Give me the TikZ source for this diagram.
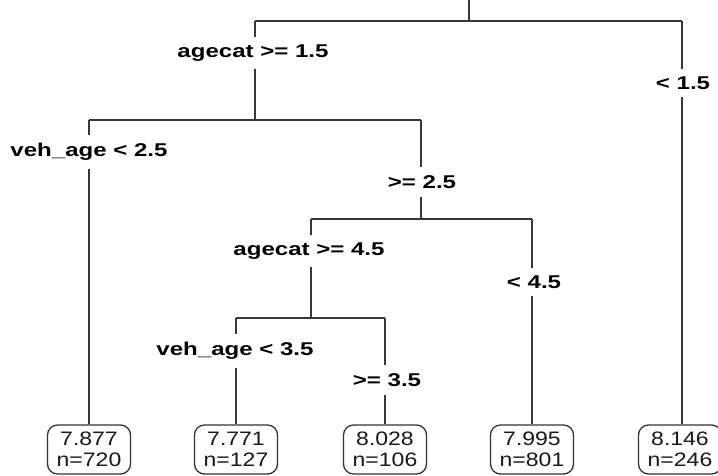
\documentclass[tikz,border=0pt]{standalone}
\usepackage{fontspec}
\setmainfont{Liberation Sans}
\newcommand{\sxlab}[1]{\scalebox{1.3}[1]{#1}}
\newcommand{\sxleaf}[1]{\scalebox{1.18}[1]{#1}}
\tikzset{
  edge/.style={line width=1.3pt, draw=black!78},
  lab/.style={fill=white, inner xsep=1pt, inner ysep=8pt, text=black,
    font=\fontsize{18.5}{20}\selectfont\bfseries},
  leaf/.style={draw=black!80, line width=1.3pt, rounded corners=10pt,
    minimum width=83pt, minimum height=49pt, align=center, inner sep=0pt,
    fill=white, text=black!90, font=\fontsize{19.5}{21.5}\selectfont}
}
\begin{document}
\begin{tikzpicture}[x=1pt,y=-1pt]
\useasboundingbox (0,0) rectangle (718,476);
% junctions
\coordinate (top) at (469,0);
\coordinate (r0) at (469,21);
\coordinate (a0) at (255,21);
\coordinate (b0) at (682,21);
\coordinate (r1) at (255,120);
\coordinate (a1) at (89,120);
\coordinate (b1) at (421,120);
\coordinate (r2) at (421,219);
\coordinate (a2) at (311,219);
\coordinate (b2) at (532,219);
\coordinate (r3) at (311,318);
\coordinate (a3) at (236,318);
\coordinate (b3) at (385,318);
% leaves
\node[leaf] (l1) at (89,449.5) {\sxleaf{7.877}\\\sxleaf{n=720}};
\node[leaf] (l2) at (236,449.5) {\sxleaf{7.771}\\\sxleaf{n=127}};
\node[leaf] (l3) at (385,449.5) {\sxleaf{8.028}\\\sxleaf{n=106}};
\node[leaf] (l4) at (532,449.5) {\sxleaf{7.995}\\\sxleaf{n=801}};
\node[leaf] (l5) at (680,449.5) {\sxleaf{8.146}\\\sxleaf{n=246}};
% edges
\draw[edge] (top) -- (r0);
\draw[edge] (a0) -- (b0);
\draw[edge] (a0) -- (r1);
\draw[edge] (b0) -- (b0 |- l5.north);
\draw[edge] (a1) -- (b1);
\draw[edge] (a1) -- (l1.north);
\draw[edge] (b1) -- (r2);
\draw[edge] (a2) -- (b2);
\draw[edge] (a2) -- (r3);
\draw[edge] (b2) -- (l4.north);
\draw[edge] (a3) -- (b3);
\draw[edge] (a3) -- (l2.north);
\draw[edge] (b3) -- (l3.north);
% labels
\node[lab] (t1) at (253,53) {\sxlab{agecat >= 1.5}};
\node[lab] (t2) at (683,83) {\sxlab{< 1.5}};
\node[lab] (t3) at (89,152) {\sxlab{veh\_age < 2.5}};
\node[lab] (t4) at (422,182) {\sxlab{>= 2.5}};
\node[lab] (t5) at (309,251) {\sxlab{agecat >= 4.5}};
\node[lab] (t6) at (534,282) {\sxlab{< 4.5}};
\node[lab] (t7) at (235,351) {\sxlab{veh\_age < 3.5}};
\node[lab] (t8) at (387,380) {\sxlab{>= 3.5}};
\end{tikzpicture}
\end{document}
